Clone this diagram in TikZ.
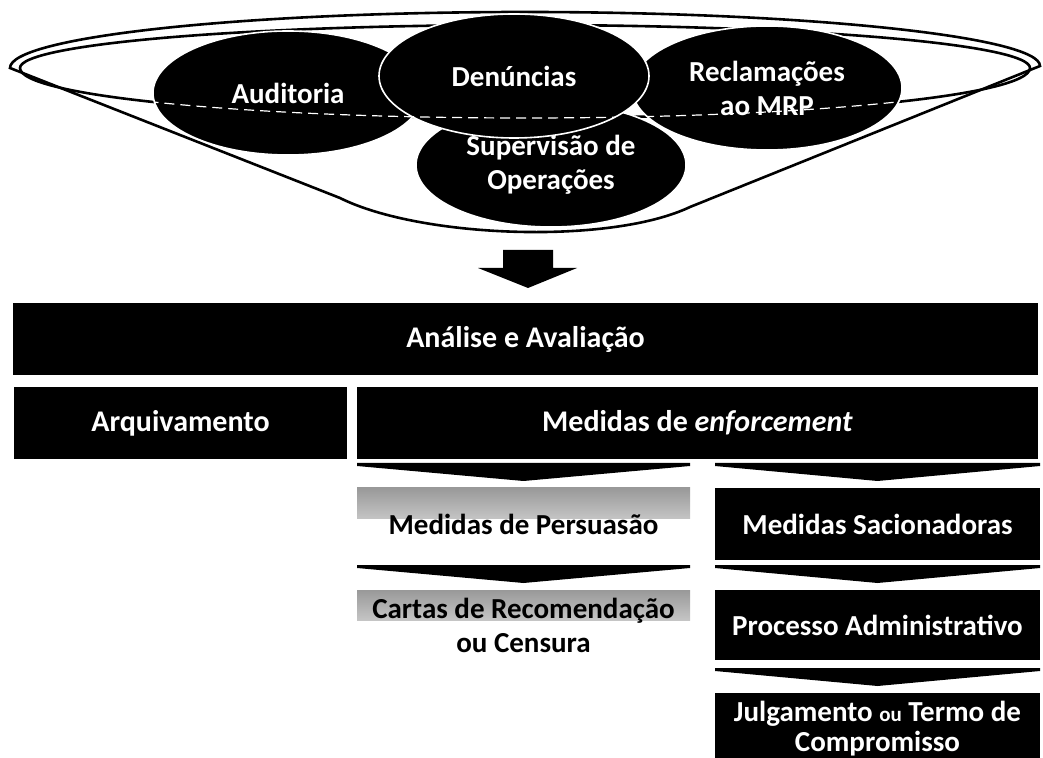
\documentclass[tikz,border=0pt]{standalone}
\usepackage{fontspec}
\setmainfont{Carlito}
\usetikzlibrary{shapes.geometric,calc}
\newcommand\mychev[1]{\fill ($(#1.north west)+(0,-25)$) -- ($(#1.north east)+(0,-25)$) -- ($(#1.north east)+(0,-22)$) -- ($(#1.north)+(0,-7)$) -- ($(#1.north west)+(0,-22)$) -- cycle;}
\begin{document}
\begin{tikzpicture}[x=0.5pt,y=-0.5pt,
  every node/.style={font=\bfseries\fontsize{14.5}{17}\selectfont, align=center, inner sep=0pt, outer sep=0pt},
  blob/.style={ellipse, fill=black, draw=white, line width=0.8pt, text=white, minimum width=135pt, minimum height=62pt},
  dbox/.style={rectangle, fill=black, text=white, minimum height=36pt},
  bigbox/.style={dbox, font=\bfseries\fontsize{15}{17}\selectfont},
  lbox/.style={rectangle, text=black, minimum width=166.5pt, minimum height=36pt,
    path picture={\shade[top color=gray!80,bottom color=white] (path picture bounding box.north west) rectangle ([yshift=-15pt]path picture bounding box.north east);}},
  rim/.style={draw=black, line width=1.3pt}
]
\useasboundingbox (0,0) rectangle (1043,758);
% funnel
\path[rim, fill=white] (10,68) -- (340,198) .. controls (420,238) and (610,245) .. (690,207) -- (1040,66)
  .. controls (1040,37) and (809,12) .. (525,12) .. controls (241,12) and (10,37) .. cycle;
\draw[rim] (20,68) .. controls (20,44) and (246,25) .. (525,25) .. controls (804,25) and (1030,44) .. (1030,68)
  .. controls (1030,96) and (804,118) .. (525,118) .. controls (246,118) and (20,96) .. cycle;
% sources
\node[blob] (aud) at (288,93) {Auditoria};
\node[blob] (rec) at (767,88) {Reclamações\\ao MRP};
\node[blob] (sup) at (551,165) {Supervisão de\\Operações};
\node[blob] (den) at (514,76) {Denúncias};
\begin{scope}
\clip (aud.center) ellipse [x radius=67.5pt, y radius=31pt]
      (rec.center) ellipse [x radius=67.5pt, y radius=31pt]
      (den.center) ellipse [x radius=67.5pt, y radius=31pt];
\draw[white, line width=0.6pt, dash pattern=on 5pt off 3pt] (1030,68) .. controls (1030,96) and (804,118) .. (525,118) .. controls (246,118) and (20,96) .. (20,68);
\end{scope}
\coordinate (fb) at (528,231);
% boxes
\node[bigbox, minimum width=512.5pt] (ana) at (525.5,339) {Análise e Avaliação};
\node[bigbox, minimum width=166.5pt] (arq) at (180.5,423) {Arquivamento};
\node[bigbox, minimum width=340.5pt] (enf) at (697.5,423) {Medidas de \textit{enforcement}};
\node[lbox] (per) at (523.5,524) {Medidas de Persuasão};
\node[lbox, minimum height=35pt] (car) at (523.5,625) {Cartas de Recomendação\\ou Censura};
\node[dbox, minimum width=162.5pt] (sac) at (877.5,524) {Medidas Sacionadoras};
\node[dbox, minimum width=162.5pt, minimum height=35pt] (pro) at (877.5,625) {Processo Administrativo};
\node[dbox, minimum width=162.5pt, font=\bfseries\fontsize{14.5}{15}\selectfont] (jul) at (877.5,729) {Julgamento {\fontsize{10.5}{13}\selectfont ou} Termo de\\Compromisso};
% arrow from funnel
\fill ($(fb)+(-25,19)$) -- ($(fb)+(25,19)$) -- ($(fb)+(25,37)$) -- ($(fb)+(49,37)$) -- ($(ana.north)+(2.5,-15)$)
  -- ($(fb)+(-50,37)$) -- ($(fb)+(-25,37)$) -- cycle;
% chevrons
\mychev{per}
\mychev{car}
\mychev{sac}
\mychev{pro}
\mychev{jul}
\end{tikzpicture}
\end{document}
